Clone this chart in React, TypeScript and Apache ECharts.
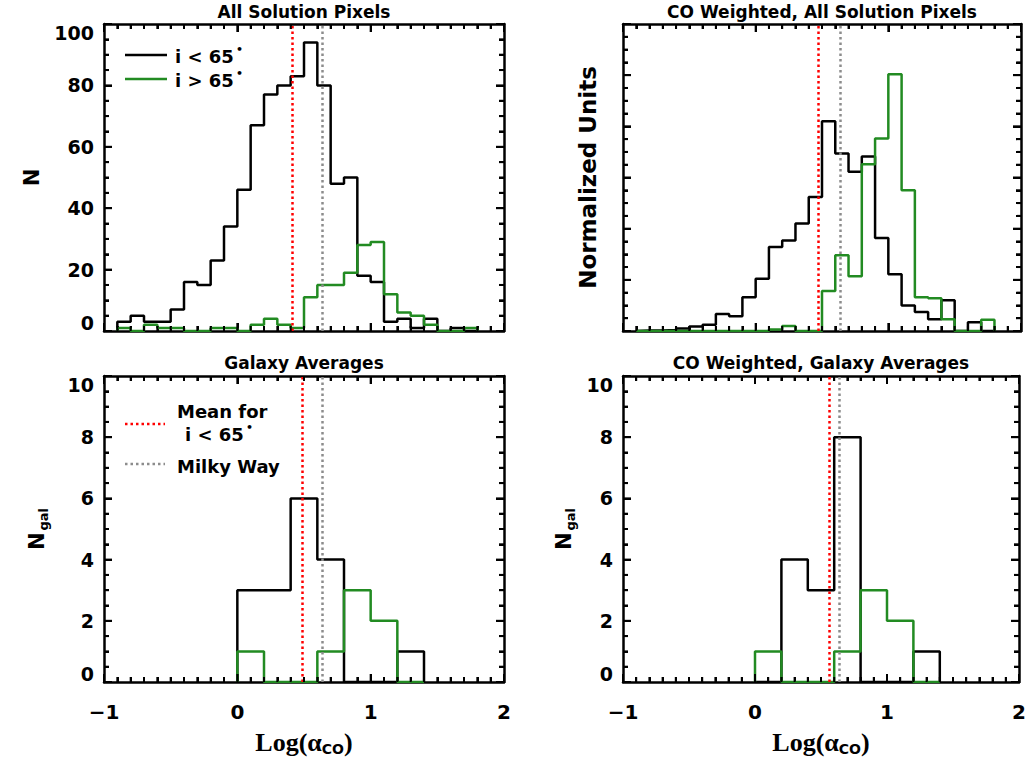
import React, { useEffect, useRef } from "react";
import * as echarts from "echarts";

// Pixel histograms: 0.1 dex bins beginning at log(alpha_CO) = -0.9
const pixelBinStart = -0.9;
const pixelBinWidth = 0.1;
const pixelsLowIncl = [3, 5, 3, 3, 7, 16, 15, 23, 34, 46, 67, 77, 80, 83, 94, 80, 48, 50, 18, 16, 3, 4, 1, 4, 0, 1, 0];
const pixelsHighIncl = [1, 0, 2, 1, 1, 0, 0, 1, 1, 0, 2, 4, 2, 1, 11, 15, 15, 19, 28, 29, 12, 6, 5, 2, 0, 0, 1];

// CO-weighted pixel histograms (normalized units)
const coPixelsLowIncl = [0.01, 0.01, 0.02, 0.05, 0.09, 0.12, 0.33, 0.29, 0.66, 1.02, 1.64, 1.77, 2.1, 2.62, 4.1, 3.47, 3.11, 3.41, 1.82, 1.11, 0.5, 0.37, 0.23, 0.6, 0, 0.17, 0];
const coPixelsHighIncl = [0, 0, 0, 0, 0, 0, 0, 0, 0, 0, 0.03, 0.1, 0, 0, 0.78, 1.48, 1.07, 3.26, 3.76, 5.02, 2.75, 0.66, 0.64, 0.23, 0, 0, 0.22];

// Galaxy-average histograms: 0.2 dex bins beginning at 0
const galaxyBinStart = 0;
const galaxyBinWidth = 0.2;
const galaxiesLowIncl = [3, 3, 6, 4, 0, 0, 1];
const galaxiesHighIncl = [1, 0, 0, 1, 3, 2, 0];
const coGalaxiesLowIncl = [0, 4, 3, 8, 0, 0, 1];
const coGalaxiesHighIncl = [1, 0, 0, 1, 3, 2, 0];

// Reference values
const meanLowIncl = [0.41, 0.47, 0.49, 0.56];
const milkyWay = 0.64;

const panelTitles = [
  "All Solution Pixels",
  "CO Weighted, All Solution Pixels",
  "Galaxy Averages",
  "CO Weighted, Galaxy Averages",
];
const yNames = ["N", "Normalized Units", "{n|N}{s|gal}", "{n|N}{s|gal}"];
const yNameGaps = [62, 24, 54, 46];
const xName = "{m|Log(\u03b1}{s|CO}{m|)}";

// Axis ranges: x is shared, y per panel [max, major interval, minor subdivisions]
const xRange = [-1, 2];
const xMajor = 1;
const xMinorDiv = 10;
const yScales = [
  [100, 20, 4],
  [6, 1, 4],
  [10, 2, 4],
  [10, 2, 4],
];

const BLACK = "#000000";
const GREEN = "#228B22";
const RED = "#ff0000";
const GREY = "#8c8c8c";
const SANS = "DejaVu Sans";
const SERIF = "Liberation Serif";

const grids = [
  { left: 104, top: 24, width: 400, height: 307 },
  { left: 623, top: 24, width: 398, height: 307 },
  { left: 104, top: 376, width: 400, height: 306 },
  { left: 623, top: 376, width: 396, height: 306 },
];

// Outline of a histogram as a list of [x, y] vertices
function steps(start: number, width: number, values: number[]): number[][] {
  const pts: number[][] = [[start, 0]];
  values.forEach((v, i) => {
    const l = +(start + i * width).toFixed(4);
    const r = +(start + (i + 1) * width).toFixed(4);
    pts.push([l, v], [r, v]);
  });
  pts.push([+(start + values.length * width).toFixed(4), 0]);
  return pts;
}

// Tick positions along an axis: [value, isMajor]
function tickList(min: number, max: number, major: number, div: number): number[][] {
  const step = major / div;
  const n = Math.round((max - min) / step);
  const out: number[][] = [];
  for (let i = 0; i <= n; i++) out.push([+(min + i * step).toFixed(6), i % div === 0 ? 1 : 0]);
  return out;
}

function axisParts(minorSplit: number) {
  return {
    axisLine: { show: true, onZero: false, lineStyle: { color: BLACK, width: 2.5 } },
    axisTick: { show: true, inside: true, length: 8, lineStyle: { color: BLACK, width: 2 } },
    minorTick: { show: true, splitNumber: minorSplit, length: 5, lineStyle: { color: BLACK, width: 2 } },
    splitLine: { show: false },
    minorSplitLine: { show: false },
  };
}

const nameRich = {
  m: { fontFamily: SERIF, fontWeight: "bold", fontSize: 26, color: BLACK },
  s: { fontFamily: SANS, fontWeight: "bold", fontSize: 14, color: BLACK, padding: [14, 0, 0, 0] },
  n: { fontFamily: SANS, fontWeight: "bold", fontSize: 21, color: BLACK },
};
const galRich = {
  n: { fontFamily: SANS, fontWeight: "bold", fontSize: 21, color: BLACK },
  s: { fontFamily: SANS, fontWeight: "bold", fontSize: 13, color: BLACK, padding: [14, 0, 0, 2] },
};

function xAxesFor(g: number, labels: boolean) {
  const base = { gridIndex: g, type: "value", min: xRange[0], max: xRange[1], interval: xMajor };
  return [
    {
      ...base,
      ...axisParts(xMinorDiv),
      position: "bottom",
      name: labels ? xName : "",
      nameLocation: "middle",
      nameGap: 46,
      nameTextStyle: { rich: nameRich },
      axisLabel: {
        show: labels,
        margin: 20,
        color: BLACK,
        fontFamily: SANS,
        fontWeight: "bold",
        fontSize: 20,
        formatter: (v: number) => String(v).replace("-", "\u2212"),
      },
    },
    { ...base, ...axisParts(xMinorDiv), position: "top", axisLabel: { show: false } },
  ];
}

function yAxesFor(g: number, labels: boolean) {
  const [max, interval, div] = yScales[g];
  const base = { gridIndex: g, type: "value", min: 0, max, interval };
  const font = { color: BLACK, fontFamily: SANS, fontWeight: "bold", fontSize: 19 };
  return [
    {
      ...base,
      ...axisParts(div),
      position: "left",
      name: yNames[g],
      nameLocation: "middle",
      nameRotate: 90,
      nameGap: yNameGaps[g],
      nameTextStyle: {
        color: BLACK,
        fontFamily: SANS,
        fontWeight: "bold",
        fontSize: g === 1 ? 23 : 21,
        rich: galRich,
      },
      axisLabel: {
        show: labels,
        margin: 10,
        ...font,
        formatter: (v: number) => (v === max ? `{hi|${v}}` : v === 0 ? `{lo|${v}}` : `${v}`),
        rich: {
          hi: { ...font, padding: [18, 0, 0, 0] },
          lo: { ...font, padding: [0, 0, 16, 0] },
        },
      },
    },
    { ...base, ...axisParts(div), position: "right", axisLabel: { show: false } },
  ];
}

// Inward ticks on all four sides of a panel, placed through the panel's scales
function frameTicks(g: number) {
  const [yMax, yMajor, yDiv] = yScales[g];
  const xs = tickList(xRange[0], xRange[1], xMajor, xMinorDiv).map(([v, m]) => [v, 0, m]);
  const ys = tickList(0, yMax, yMajor, yDiv).map(([v, m]) => [v, 1, m]);
  const seg = (x1: number, y1: number, x2: number, y2: number) => ({
    type: "line",
    shape: { x1, y1, x2, y2 },
    style: { stroke: BLACK, lineWidth: 2 },
  });
  return {
    type: "custom",
    xAxisIndex: 2 * g,
    yAxisIndex: 2 * g,
    silent: true,
    z: 6,
    data: [...xs, ...ys],
    renderItem: (_params: any, api: any) => {
      const v = api.value(0);
      const kind = api.value(1);
      const len = api.value(2) ? 8 : 5;
      if (kind === 0) {
        const b = api.coord([v, 0]);
        const t = api.coord([v, yMax]);
        return { type: "group", children: [seg(b[0], b[1], b[0], b[1] - len), seg(t[0], t[1], t[0], t[1] + len)] };
      }
      const l = api.coord([xRange[0], v]);
      const r = api.coord([xRange[1], v]);
      return { type: "group", children: [seg(l[0], l[1], l[0] + len, l[1]), seg(r[0], r[1], r[0] - len, r[1])] };
    },
  };
}

function histSeries(g: number, pts: number[][], color: string, extra: any = {}) {
  return {
    type: "line",
    xAxisIndex: 2 * g,
    yAxisIndex: 2 * g,
    data: pts,
    symbol: "none",
    showSymbol: false,
    lineStyle: { color, width: 2.5 },
    ...extra,
  };
}

function refLines(g: number) {
  return {
    markLine: {
      silent: true,
      symbol: ["none", "none"],
      label: { show: false },
      data: [
        { xAxis: meanLowIncl[g], lineStyle: { color: RED, type: [2.5, 3], width: 2.5 } },
        { xAxis: milkyWay, lineStyle: { color: GREY, type: [2.5, 3], width: 2.5 } },
      ],
    },
  };
}

function text(x: number, y: number, str: string, size: number, align = "center") {
  return {
    type: "text",
    x,
    y,
    style: {
      text: str,
      fontFamily: SANS,
      fontWeight: "bold",
      fontSize: size,
      fill: BLACK,
      align,
      verticalAlign: "middle",
    },
  };
}

export default function App() {
  const ref = useRef<HTMLDivElement>(null);

  useEffect(() => {
    if (!ref.current) return;
    const chart = echarts.init(ref.current, undefined, { renderer: "svg" });

    const xAxis = [
      ...xAxesFor(0, false),
      ...xAxesFor(1, false),
      ...xAxesFor(2, true),
      ...xAxesFor(3, true),
    ];
    const yAxis = [
      ...yAxesFor(0, true),
      ...yAxesFor(1, false),
      ...yAxesFor(2, true),
      ...yAxesFor(3, true),
    ];

    const series = [
      histSeries(0, steps(pixelBinStart, pixelBinWidth, pixelsLowIncl), BLACK, refLines(0)),
      histSeries(0, steps(pixelBinStart, pixelBinWidth, pixelsHighIncl), GREEN),
      histSeries(1, steps(pixelBinStart, pixelBinWidth, coPixelsLowIncl), BLACK, refLines(1)),
      histSeries(1, steps(pixelBinStart, pixelBinWidth, coPixelsHighIncl), GREEN),
      histSeries(2, steps(galaxyBinStart, galaxyBinWidth, galaxiesLowIncl), BLACK, refLines(2)),
      histSeries(2, steps(galaxyBinStart, galaxyBinWidth, galaxiesHighIncl), GREEN),
      histSeries(3, steps(galaxyBinStart, galaxyBinWidth, coGalaxiesLowIncl), BLACK, refLines(3)),
      histSeries(3, steps(galaxyBinStart, galaxyBinWidth, coGalaxiesHighIncl), GREEN),
      frameTicks(0),
      frameTicks(1),
      frameTicks(2),
      frameTicks(3),
    ];

    const graphic: any[] = [
      // panel titles
      text(304, 12, panelTitles[0], 17),
      text(822, 12, panelTitles[1], 17),
      text(304, 363, panelTitles[2], 17),
      text(821, 363, panelTitles[3], 17),
      // inclination legend
      { type: "line", shape: { x1: 125, y1: 55, x2: 167, y2: 55 }, style: { stroke: BLACK, lineWidth: 2.5 } },
      { type: "line", shape: { x1: 125, y1: 79, x2: 167, y2: 79 }, style: { stroke: GREEN, lineWidth: 2.5 } },
      text(175, 56, "i < 65", 18, "left"),
      text(236, 49, "\u2022", 11, "left"),
      text(175, 80, "i > 65", 18, "left"),
      text(236, 73, "\u2022", 11, "left"),
      // reference-line legend
      { type: "line", shape: { x1: 125, y1: 424, x2: 165, y2: 424 }, style: { stroke: RED, lineWidth: 2.5, lineDash: [2.5, 3] } },
      { type: "line", shape: { x1: 125, y1: 464, x2: 165, y2: 464 }, style: { stroke: GREY, lineWidth: 2.5, lineDash: [2.5, 3] } },
      text(177, 411, "Mean for", 18, "left"),
      text(185, 434, "i < 65", 18, "left"),
      text(246, 427, "\u2022", 11, "left"),
      text(177, 466, "Milky Way", 18, "left"),
    ];

    chart.setOption({
      animation: false,
      backgroundColor: "#ffffff",
      grid: grids,
      xAxis,
      yAxis,
      series,
      graphic,
    });

    return () => chart.dispose();
  }, []);

  return <div ref={ref} style={{ position: "absolute", left: 0, top: 0, width: 1029, height: 765 }} />;
}
